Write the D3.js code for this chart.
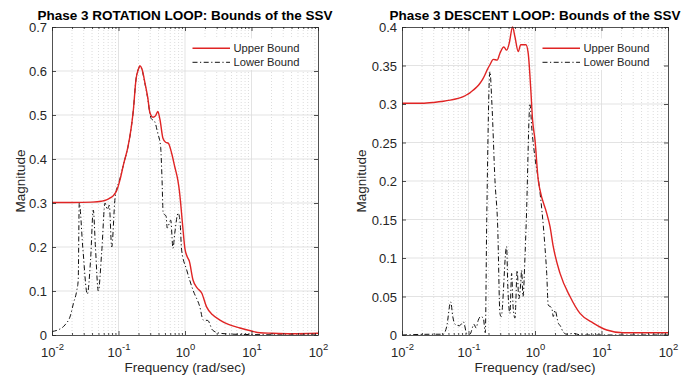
<!DOCTYPE html>
<html>
<head>
<meta charset="utf-8">
<script src="https://cdn.jsdelivr.net/npm/d3@7"></script>
<style>
  html, body { margin: 0; padding: 0; background: #ffffff; }
  svg { display: block; font-family: "Liberation Sans", Arial, Helvetica, sans-serif; }
</style>
</head>
<body>
<svg id="chart" width="681" height="378"></svg>
<script>
// ---------- data ----------
const decades = [0.01, 0.1, 1, 10, 100];
const decadeExponents = ["-2", "-1", "0", "1", "2"];

const rotYTicks = [0, 0.1, 0.2, 0.3, 0.4, 0.5, 0.6, 0.7];
const rotYLabels = ["0", "0.1", "0.2", "0.3", "0.4", "0.5", "0.6", "0.7"];
const desYTicks = [0, 0.05, 0.1, 0.15, 0.2, 0.25, 0.3, 0.35, 0.4];
const desYLabels = ["0", "0.05", "0.1", "0.15", "0.2", "0.25", "0.3", "0.35", "0.4"];

const titles = ["Phase 3 ROTATION LOOP: Bounds of the SSV", "Phase 3 DESCENT LOOP: Bounds of the SSV"];
const legendLabels = ["Upper Bound", "Lower Bound"];
const xLabel = "Frequency (rad/sec)";
const yLabel = "Magnitude";

// ROTATION loop
const rotUpperF = [0.01, 0.02, 0.04, 0.055, 0.066, 0.074, 0.085, 0.095, 0.105, 0.12, 0.139, 0.155, 0.167, 0.183, 0.2, 0.21, 0.225, 0.25, 0.275, 0.297, 0.33, 0.36, 0.39, 0.42, 0.466, 0.51, 0.56, 0.63, 0.7, 0.78, 0.82, 0.86, 0.92, 1.0, 1.08, 1.16, 1.32, 1.5, 1.79, 2.11, 2.6, 3.35, 4.5, 6.7, 10, 13.4, 20, 40, 100];
const rotUpperM = [0.301, 0.301, 0.302, 0.304, 0.307, 0.311, 0.318, 0.33, 0.352, 0.39, 0.428, 0.47, 0.51, 0.58, 0.605, 0.612, 0.605, 0.573, 0.54, 0.505, 0.495, 0.498, 0.508, 0.49, 0.447, 0.438, 0.436, 0.413, 0.383, 0.352, 0.33, 0.30, 0.25, 0.195, 0.178, 0.168, 0.125, 0.108, 0.095, 0.064, 0.046, 0.034, 0.024, 0.016, 0.009, 0.005, 0.004, 0.003, 0.004];

const rotLowerF = [0.01, 0.0125, 0.0157, 0.019, 0.021, 0.0235, 0.0248, 0.0257, 0.029, 0.034, 0.038, 0.0418, 0.045, 0.0497, 0.056, 0.0627, 0.068, 0.0727, 0.079, 0.0886, 0.1, 0.105, 0.12, 0.139, 0.155, 0.167, 0.183, 0.2, 0.21, 0.225, 0.25, 0.275, 0.297, 0.31, 0.35, 0.39, 0.43, 0.45, 0.47, 0.52, 0.54, 0.61, 0.66, 0.70, 0.79, 0.84, 0.89, 1.06, 1.32, 1.67, 1.88, 2.2, 2.6, 3.35, 5, 10, 20, 100];
const rotLowerM = [0.008, 0.012, 0.023, 0.045, 0.072, 0.10, 0.125, 0.30, 0.20, 0.093, 0.17, 0.284, 0.20, 0.10, 0.19, 0.30, 0.285, 0.295, 0.20, 0.31, 0.345, 0.355, 0.39, 0.428, 0.47, 0.51, 0.58, 0.605, 0.610, 0.603, 0.571, 0.538, 0.503, 0.492, 0.485, 0.458, 0.428, 0.36, 0.277, 0.27, 0.243, 0.261, 0.197, 0.23, 0.277, 0.26, 0.193, 0.148, 0.102, 0.064, 0.034, 0.033, 0.011, 0.004, 0.002, 0.001, 0.0005, 0];

// DESCENT loop
const desUpperF = [0.01, 0.02, 0.03, 0.042, 0.053, 0.064, 0.074, 0.085, 0.094, 0.105, 0.118, 0.133, 0.149, 0.163, 0.177, 0.19, 0.21, 0.236, 0.27, 0.297, 0.34, 0.375, 0.41, 0.46, 0.5, 0.56, 0.61, 0.73, 0.79, 0.86, 0.92, 1.0, 1.12, 1.19, 1.5, 1.68, 1.88, 2.38, 3.36, 4.75, 7.53, 12, 21, 50, 100];
const desUpperM = [0.301, 0.301, 0.302, 0.3035, 0.305, 0.3065, 0.308, 0.310, 0.312, 0.3145, 0.318, 0.322, 0.327, 0.332, 0.338, 0.344, 0.351, 0.358, 0.357, 0.366, 0.374, 0.370, 0.379, 0.400, 0.387, 0.368, 0.377, 0.377, 0.366, 0.322, 0.279, 0.253, 0.201, 0.188, 0.158, 0.141, 0.115, 0.080, 0.050, 0.028, 0.0155, 0.0065, 0.003, 0.003, 0.003];

const desLowerF = [0.01, 0.03, 0.0418, 0.047, 0.054, 0.058, 0.0626, 0.073, 0.084, 0.094, 0.105, 0.121, 0.13, 0.14, 0.152, 0.167, 0.179, 0.188, 0.21, 0.225, 0.25, 0.275, 0.297, 0.31, 0.374, 0.39, 0.42, 0.445, 0.47, 0.5, 0.54, 0.57, 0.61, 0.63, 0.66, 0.71, 0.74, 0.84, 0.9, 1.0, 1.16, 1.41, 1.5, 1.58, 1.79, 1.88, 2.0, 2.25, 2.4, 2.65, 3.0, 3.75, 5, 100];
const desLowerM = [0, 0.001, 0.001, 0.011, 0.043, 0.024, 0.014, 0.012, 0.017, 0.002, 0.001, 0.014, 0.009, 0.019, 0.024, 0.022, 0.003, 0.149, 0.342, 0.30, 0.201, 0.14, 0.028, 0.024, 0.115, 0.063, 0.028, 0.08, 0.035, 0.022, 0.084, 0.047, 0.067, 0.084, 0.05, 0.106, 0.149, 0.299, 0.266, 0.23, 0.193, 0.115, 0.08, 0.039, 0.035, 0.024, 0.032, 0.015, 0.012, 0.004, 0.001, 0.002, 0, 0];

// ---------- drawing ----------
const svg = d3.select("#chart");
const AX = "#262626";
const RED = "#e02424";

const panels = [
  { left: 52, right: 318, top: 27, bottom: 335, ymax: 0.7, yTicks: rotYTicks, yLabels: rotYLabels,
    title: titles[0], upF: rotUpperF, upM: rotUpperM, loF: rotLowerF, loM: rotLowerM, ylabX: 24.7 },
  { left: 402, right: 668, top: 27, bottom: 335, ymax: 0.4, yTicks: desYTicks, yLabels: desYLabels,
    title: titles[1], upF: desUpperF, upM: desUpperM, loF: desLowerF, loM: desLowerM, ylabX: 366.4 }
];

const minors = [];
for (let e = -2; e < 2; e++) for (let k = 2; k <= 9; k++) minors.push(k * Math.pow(10, e));

panels.forEach((p, pi) => {
  const x = d3.scaleLog().domain([0.01, 100]).range([p.left, p.right]);
  const y = d3.scaleLinear().domain([0, p.ymax]).range([p.bottom, p.top]);
  const g = svg.append("g");

  g.append("rect").attr("x", p.left).attr("y", p.top)
    .attr("width", p.right - p.left).attr("height", p.bottom - p.top).attr("fill", "#fff");

  // minor grid (dotted)
  g.append("g").selectAll("line").data(minors).join("line")
    .attr("x1", d => x(d)).attr("x2", d => x(d))
    .attr("y1", p.top).attr("y2", p.bottom)
    .attr("stroke", "#c4c4c4").attr("stroke-width", 0.6).attr("stroke-dasharray", "1,2");
  // major grid
  g.append("g").selectAll("line").data(decades.slice(1, -1)).join("line")
    .attr("x1", d => x(d)).attr("x2", d => x(d))
    .attr("y1", p.top).attr("y2", p.bottom)
    .attr("stroke", "#dcdcdc").attr("stroke-width", 0.8);
  g.append("g").selectAll("line").data(p.yTicks.slice(1, -1)).join("line")
    .attr("x1", p.left).attr("x2", p.right)
    .attr("y1", d => y(d)).attr("y2", d => y(d))
    .attr("stroke", "#dcdcdc").attr("stroke-width", 0.8);

  const cid = "clip" + pi;
  svg.append("clipPath").attr("id", cid).append("rect")
    .attr("x", p.left).attr("y", p.top - 1).attr("width", p.right - p.left).attr("height", p.bottom - p.top + 1);

  const line = d3.line().x(d => x(d[0])).y(d => y(d[1])).curve(d3.curveMonotoneX);
  const up = p.upF.map((f, i) => [f, p.upM[i]]);
  const lo = p.loF.map((f, i) => [f, p.loM[i]]);
  const plot = g.append("g").attr("clip-path", `url(#${cid})`);
  plot.append("path").datum(lo).attr("d", line).attr("fill", "none")
    .attr("stroke", "#111").attr("stroke-width", 1).attr("stroke-dasharray", "5,2.5,1.2,2.5");
  plot.append("path").datum(up).attr("d", line).attr("fill", "none")
    .attr("stroke", RED).attr("stroke-width", 1.4);

  const styleAxis = sel => {
    sel.selectAll(".domain").attr("stroke", AX).attr("stroke-width", 0.8);
    sel.selectAll(".tick line").attr("stroke", AX).attr("stroke-width", 0.8);
    sel.selectAll("text").attr("fill", AX).attr("font-size", "13px")
      .attr("font-family", '"Liberation Sans", Arial, Helvetica, sans-serif');
  };
  const xb = g.append("g").attr("transform", `translate(0,${p.bottom})`)
    .call(d3.axisBottom(x).tickValues(decades).tickSize(-4).tickSizeOuter(0).tickPadding(12.4)
      .tickFormat(() => ""));
  styleAxis(xb);
  xb.selectAll(".tick text").each(function (d, i) {
    const t = d3.select(this);
    t.text(null);
    t.append("tspan").text("10");
    t.append("tspan").attr("dy", "-6.5").attr("font-size", "9.5px").text(decadeExponents[i]);
  });
  const xt = g.append("g").attr("transform", `translate(0,${p.top})`)
    .call(d3.axisTop(x).tickValues(decades).tickSize(-4).tickSizeOuter(0).tickFormat(() => ""));
  styleAxis(xt);
  [p.bottom, p.top].forEach((yy, k) => {
    const ax = k === 0 ? d3.axisBottom(x) : d3.axisTop(x);
    const m = g.append("g").attr("transform", `translate(0,${yy})`)
      .call(ax.tickValues(minors).tickSize(-2).tickSizeOuter(0).tickFormat(() => ""));
    m.select(".domain").remove();
    styleAxis(m);
  });

  const yl = g.append("g").attr("transform", `translate(${p.left},0)`)
    .call(d3.axisLeft(y).tickValues(p.yTicks).tickSize(-4).tickSizeOuter(0).tickPadding(5)
      .tickFormat((d, i) => p.yLabels[i]));
  styleAxis(yl);
  yl.selectAll(".tick text").attr("dy", "0.36em");
  const yr = g.append("g").attr("transform", `translate(${p.right},0)`)
    .call(d3.axisRight(y).tickValues(p.yTicks).tickSize(-4).tickSizeOuter(0).tickFormat(() => ""));
  styleAxis(yr);

  g.append("text").attr("x", (p.left + p.right) / 2).attr("y", 19.5)
    .attr("text-anchor", "middle").attr("font-weight", "bold").attr("font-size", "13.5px")
    .attr("fill", "#000").text(p.title);
  g.append("text").attr("x", (p.left + p.right) / 2).attr("y", 371.5)
    .attr("text-anchor", "middle").attr("font-size", "13.5px").attr("fill", AX).text(xLabel);
  g.append("text").attr("transform", `translate(${p.ylabX},${(p.top + p.bottom) / 2}) rotate(-90)`)
    .attr("text-anchor", "middle").attr("font-size", "13.5px").attr("fill", AX).text(yLabel);

  // legend
  const lx = p.right - 132;
  const lg = g.append("g");
  lg.append("rect").attr("x", lx).attr("y", 38.5).attr("width", 127).attr("height", 31.5).attr("fill", "#fff");
  const items = [
    { label: legendLabels[0], color: RED, w: 1.4, dash: null, yy: 48.3 },
    { label: legendLabels[1], color: "#111", w: 1, dash: "5,2.5,1.2,2.5", yy: 62.3 }
  ];
  items.forEach(it => {
    lg.append("line").attr("x1", lx + 6.5).attr("x2", lx + 44).attr("y1", it.yy).attr("y2", it.yy)
      .attr("stroke", it.color).attr("stroke-width", it.w).attr("stroke-dasharray", it.dash);
    lg.append("text").attr("x", lx + 47.5).attr("y", it.yy + 3.9).attr("font-size", "11.2px")
      .attr("fill", AX).text(it.label);
  });
});
</script>
</body>
</html>
